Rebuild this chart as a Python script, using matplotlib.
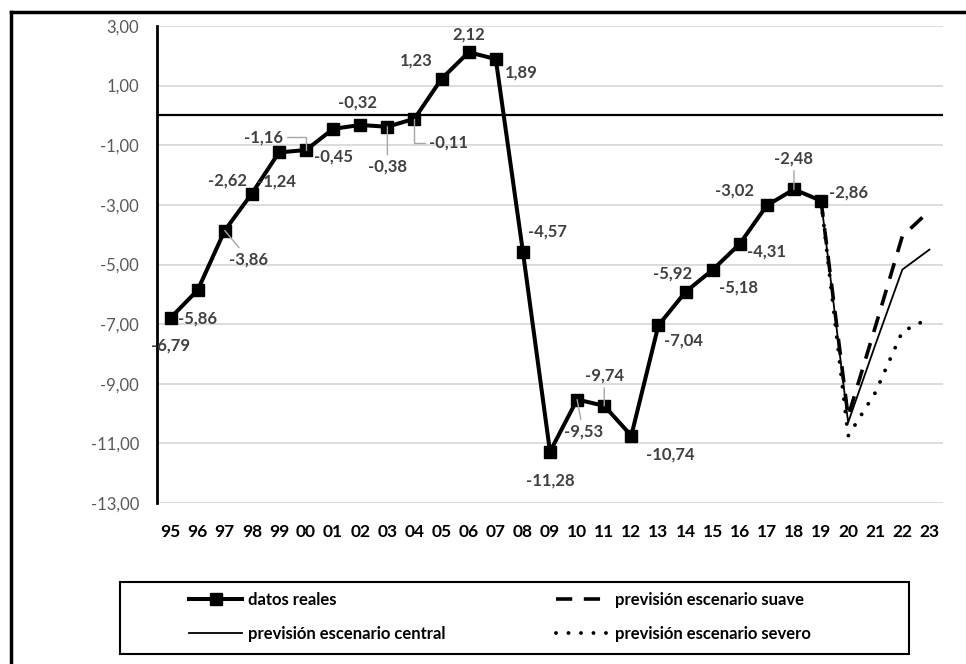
import matplotlib
matplotlib.use("Agg")
import matplotlib.pyplot as plt
from matplotlib.lines import Line2D

plt.rcParams["font.family"] = ["Lato", "DejaVu Sans"]

# series
years = ["95", "96", "97", "98", "99", "00", "01", "02", "03", "04", "05", "06", "07",
         "08", "09", "10", "11", "12", "13", "14", "15", "16", "17", "18", "19", "20",
         "21", "22", "23"]
reales = [-6.79, -5.86, -3.86, -2.62, -1.24, -1.16, -0.45, -0.32, -0.38, -0.11, 1.23,
          2.12, 1.89, -4.57, -11.28, -9.53, -9.74, -10.74, -7.04, -5.92, -5.18, -4.31,
          -3.02, -2.48, -2.86]
prev_years = ["19", "20", "21", "22", "23"]
suave = [-2.86, -10.10, -7.10, -4.05, -3.20]
central = [-2.86, -10.30, -7.70, -5.17, -4.50]
severo = [-2.86, -10.75, -9.30, -7.25, -6.80]
yticks = [3, 1, -1, -3, -5, -7, -9, -11, -13]

# label offsets in pixels (dx, dy down) and leader style (0 none, 1 straight, 2 elbow)
label_pos = [(0, 28, 0), (0, 28, 0), (24, 29, 1), (-24, -13, 0), (-2, 29, 0),
             (-43, -13, 2), (0, 28, 0), (-3, -22, 0), (0, 40, 1), (34, 24, 2),
             (-25, -18, 0), (0, -18, 0), (26, 13, 0), (25, -20, 0), (0, 29, 0),
             (6, 32, 1), (0, -30, 1), (39, 19, 0), (25, 15, 0), (-13, -18, 0),
             (26, 18, 0), (27, 8, 0), (-32, -15, 0), (0, -31, 1), (27, -8, 0)]

W, H = 966, 664
fig = plt.figure(figsize=(W / 100, H / 100), dpi=100)
ax = fig.add_axes([157 / W, 1 - 503 / H, 786 / W, 477 / H])

xi = list(range(len(years)))
px = [years.index(y) for y in prev_years]

dots = (0, (0.01, 3.2))
dashes = (0, (4.5, 3.2))

ax.plot(px, severo, color="black", lw=2.8, linestyle=dots,
        dash_capstyle="round", zorder=4)
ax.plot(px, central, color="black", lw=1.3, zorder=4)
ax.plot(px, suave, color="black", lw=2.6, linestyle=dashes,
        dash_capstyle="butt", zorder=4)
ax.plot(xi[:len(reales)], reales, color="black", lw=2.9, marker="s",
        markersize=8, zorder=5)

for i, v in enumerate(reales):
    dx, dy, lead = label_pos[i]
    txt = f"{v:.2f}".replace(".", ",")
    kw = {}
    if lead:
        conn = "arc3" if lead == 1 else "angle,angleA=0,angleB=90,rad=0"
        kw["arrowprops"] = dict(arrowstyle="-", color="#a6a6a6", lw=1,
                                shrinkA=1, shrinkB=0, connectionstyle=conn)
    ax.annotate(txt, (i, v), xytext=(dx, -dy), textcoords="offset pixels",
                ha="center", va="center", fontsize=12, fontweight="bold",
                color="#404040", zorder=6, **kw)

ax.set_xlim(-0.5, len(years) - 0.5)
ax.set_ylim(-13, 3)
ax.set_yticks(yticks)
ax.set_yticklabels([f"{t:.2f}".replace(".", ",") for t in yticks])
ax.set_xticks(xi)
ax.set_xticklabels(years, fontweight="bold")
ax.tick_params(axis="y", length=0, pad=13, labelsize=12, labelcolor="#595959")
ax.tick_params(axis="x", length=0, pad=15, labelsize=12.5, labelcolor="black")
ax.grid(axis="y", color="#d9d9d9", lw=1.3)
ax.set_axisbelow(True)
for s in ["top", "right", "bottom"]:
    ax.spines[s].set_visible(False)
ax.spines["left"].set_linewidth(2)
ax.axhline(0, color="black", lw=1.6, zorder=3)

# legend box
handles = [
    Line2D([], [], color="black", lw=2.9, marker="s", markersize=8),
    Line2D([], [], color="black", lw=1.3),
    Line2D([], [], color="black", lw=2.6, linestyle=dashes),
    Line2D([], [], color="black", lw=2.8, linestyle=dots, dash_capstyle="round"),
]
labels = ["datos reales", "previsión escenario central",
          "previsión escenario suave", "previsión escenario severo"]
fig.legend(handles, labels, ncol=2, loc="upper left",
           bbox_to_anchor=(174 / W, 1 - 577 / H), frameon=False,
           prop=dict(size=12, weight="bold"), handlelength=3.2,
           handletextpad=0.35, columnspacing=6.6, labelspacing=1.05)
fig.add_artist(plt.Rectangle((120 / W, 1 - 654 / H), 789 / W, 72 / H,
                             transform=fig.transFigure, fill=False,
                             ec="black", lw=1.5))

# outer frame
fig.add_artist(Line2D([11 / W, 1], [1 - 12 / H] * 2, transform=fig.transFigure,
                      color="black", lw=2.5))
fig.add_artist(Line2D([11 / W] * 2, [0, 1 - 12 / H], transform=fig.transFigure,
                      color="black", lw=2.5))

fig.savefig("out.png", dpi=100)
